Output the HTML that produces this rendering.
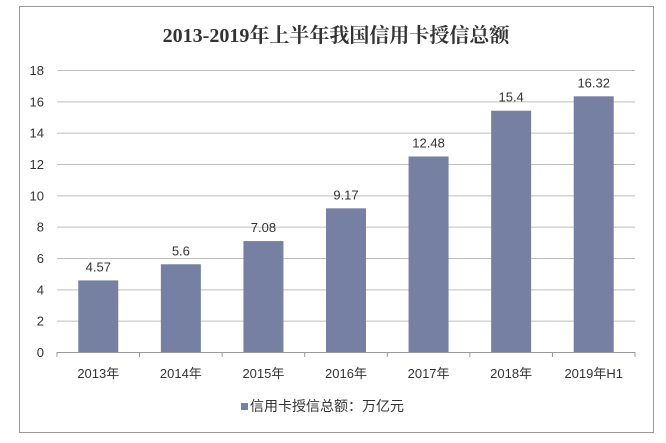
<!DOCTYPE html>
<html><head><meta charset="utf-8"><style>
body{margin:0;background:#fff;}
svg text{font-family:"Liberation Sans","Noto Sans CJK SC",sans-serif;}
</style></head><body>
<svg width="666" height="438" xmlns="http://www.w3.org/2000/svg" id="chart">
<rect x="19.5" y="6.5" width="634" height="426" fill="#fff" stroke="#999" stroke-width="1"/>
<text x="336" y="42" text-anchor="middle" font-size="20" font-weight="bold" fill="#333" style="font-family:'Liberation Serif','Noto Serif CJK SC',serif">2013-2019年上半年我国信用卡授信总额</text>
<g id="grid"></g><g id="bars"></g><g id="axes"></g>
<rect x="241" y="403" width="7" height="7" fill="#7580a3"/>
<text x="250" y="411" font-size="14" fill="#333">信用卡授信总额：万亿元</text>
</svg>
<script>
const categories=["2013年","2014年","2015年","2016年","2017年","2018年","2019年H1"];
const values=[4.57,5.6,7.08,9.17,12.48,15.4,16.32];
const valueLabels=["4.57","5.6","7.08","9.17","12.48","15.4","16.32"];
const yTicks=[0,2,4,6,8,10,12,14,16,18];
const NS="http://www.w3.org/2000/svg";
const L=57,R=635,T=70,B=352,yMax=18;
const y=v=>B-(v/yMax)*(B-T);
const band=(R-L)/categories.length;
const x=i=>L+band*i+band/2;
function mk(tag,attrs,parent,txt){const e=document.createElementNS(NS,tag);for(const k in attrs)e.setAttribute(k,attrs[k]);if(txt!==undefined)e.textContent=txt;document.getElementById(parent).appendChild(e);return e;}
yTicks.forEach(t=>{
  if(t>0){const g=mk('line',{x1:L,x2:R,y1:y(t)+0.5,y2:y(t)+0.5,stroke:'#bfbfbf','stroke-width':1},'grid');
  
  }
  const tl=mk('text',{x:44,y:y(t)+5,'text-anchor':'end','font-size':13,fill:'#333'},'axes',String(t));
  
  
});
values.forEach((v,i)=>{
  const b=mk('rect',{x:x(i)-20,y:y(v),width:40,height:B-y(v),fill:'#7580a3'},'bars');
  
  
  const vl=mk('text',{x:x(i),y:y(v)-9,'text-anchor':'middle','font-size':13,fill:'#333'},'bars',valueLabels[i]);
  
  
  const cl=mk('text',{x:x(i),y:378,'text-anchor':'middle','font-size':13,fill:'#333'},'axes',categories[i]);
  
  
});
const ax=mk('line',{x1:L,x2:R,y1:B+0.5,y2:B+0.5,stroke:'#999','stroke-width':1},'axes');


for(let i=0;i<=categories.length;i++){
  const tk=mk('line',{x1:L+band*i,x2:L+band*i,y1:B,y2:B+5,stroke:'#999'},'axes');
  
  
}
</script>
</body></html>
